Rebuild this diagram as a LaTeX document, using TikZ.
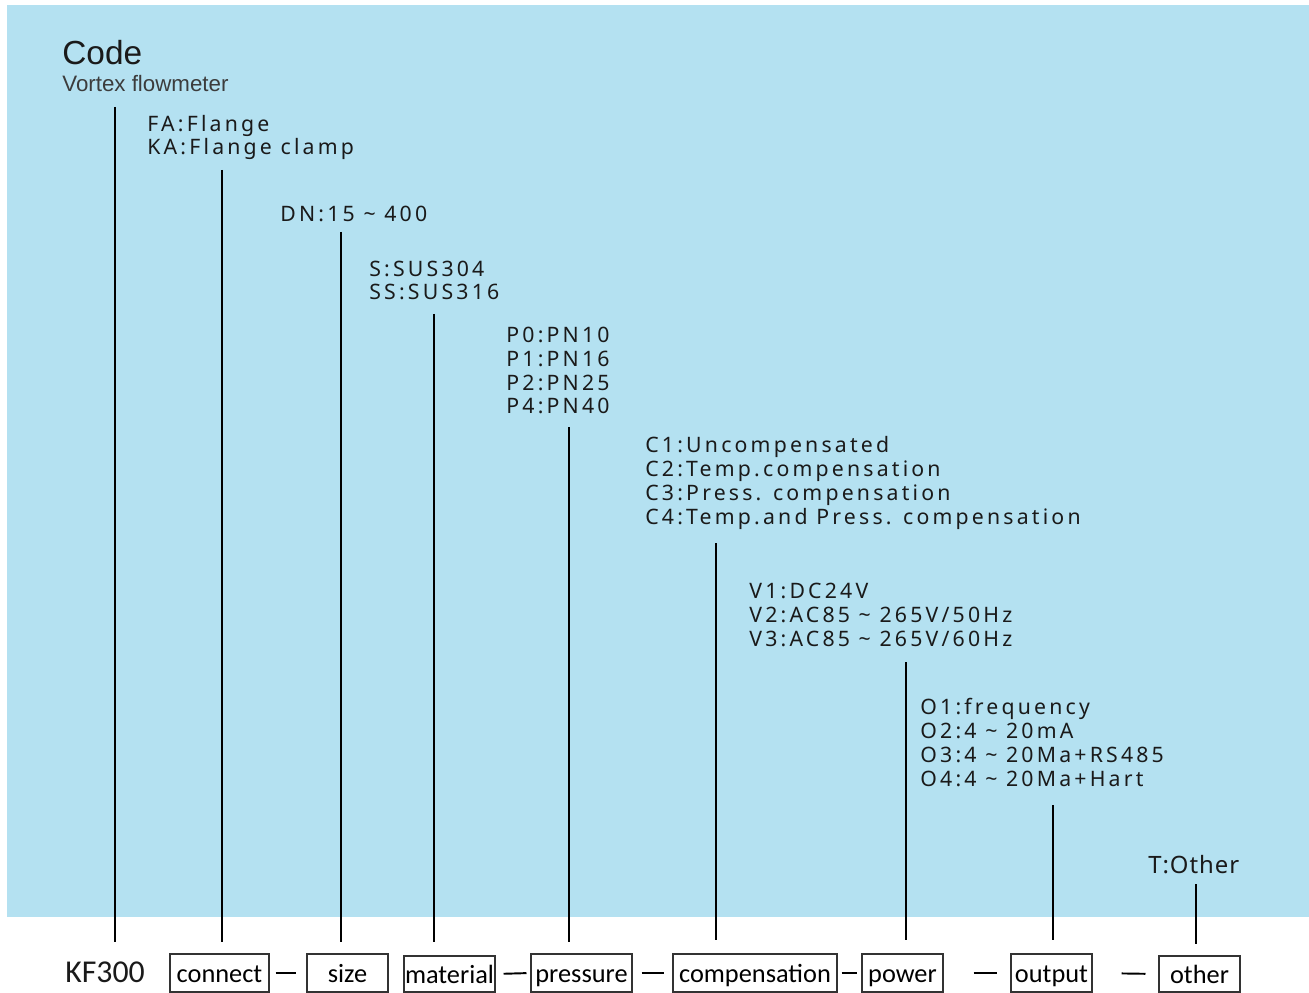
\documentclass[tikz,border=0pt]{standalone}
\usepackage{fontspec}
\setmainfont{Noto Sans}
\newfontfamily\headfont{Liberation Sans}
\newfontfamily\boxfont{Carlito}
\newfontfamily\optfont[LetterSpace=15]{Noto Sans}
\newfontfamily\otherfont[LetterSpace=4]{Noto Sans}
\usetikzlibrary{positioning}
\definecolor{SkyBlue}{HTML}{B4E1F1}
\definecolor{InkText}{HTML}{1A1A1A}
\newcommand{\tld}{\textasciitilde}
\tikzset{
  opt/.style={anchor=base west, inner sep=0pt, align=left, text=InkText, font=\optfont\fontsize{12.1pt}{13.6pt}\selectfont},
  codebox/.style={draw=black!80, line width=0.6pt, minimum height=0.76cm, inner sep=0pt, text height=0.5cm, text depth=0.14cm, font=\boxfont\fontsize{15pt}{18pt}\selectfont},
  stem/.style={line width=1.1pt, draw=black},
  dashline/.style={line width=1.1pt, draw=black}
}

\begin{document}
\begin{tikzpicture}[x=0.02cm,y=-0.02cm]
\useasboundingbox (0,0) rectangle (1309,993);
\fill[white] (0,0) rectangle (1309,993);
\fill[SkyBlue] (7,5) rectangle (1309,917);

% heading
\node[anchor=base west, inner sep=0pt, text=InkText, font=\headfont\fontsize{19pt}{22pt}\selectfont] (code) at (62,65) {Code};
\node[anchor=base west, inner sep=0pt, text=InkText!85, font=\headfont\fontsize{12.7pt}{15pt}\selectfont] (vortex) at (62,92) {Vortex flowmeter};

% option lists (base = last line)
\node[opt] (conopt) at (147,155) {FA:Flange\\KA:Flange clamp};
\node[opt] (sizeopt) at (280,222) {DN:15 \tld{} 400};
\node[opt] (matopt) at (369,300) {S:SUS304\\SS:SUS316};
\node[opt] (presopt) at (506,414) {P0:PN10\\P1:PN16\\P2:PN25\\P4:PN40};
\node[opt] (compopt) at (645,524) {C1:Uncompensated\\C2:Temp.compensation\\C3:Press. compensation\\C4:Temp.and Press. compensation};
\node[opt] (powopt) at (749,646) {V1:DC24V\\V2:AC85 \tld{} 265V/50Hz\\V3:AC85 \tld{} 265V/60Hz};
\node[opt] (outopt) at (920,786) {O1:frequency\\O2:4 \tld{} 20mA\\O3:4 \tld{} 20Ma+RS485\\O4:4 \tld{} 20Ma+Hart};
\node[opt, font=\otherfont\fontsize{13.6pt}{16pt}\selectfont] (othopt) at (1148,873) {T:Other};

% code line
\node[anchor=base west, inner sep=0pt, text=InkText, font=\boxfont\fontsize{18.1pt}{21pt}\selectfont] (kf) at (65,982) {KF300};
\node[codebox, minimum width=1.98cm] (connect) at (219.5,973) {connect};
\node[codebox, minimum width=1.62cm] (size) at (347.5,973) {size};
\node[codebox, minimum width=1.82cm, minimum height=0.72cm] (material) at (449.5,974) {material};
\node[codebox, minimum width=2.02cm] (pressure) at (581.5,973) {pressure};
\node[codebox, minimum width=3.28cm] (comp) at (755,973) {compensation};
\node[codebox, minimum width=1.62cm] (power) at (902.5,973) {power};
\node[codebox, minimum width=1.62cm] (output) at (1051.5,973) {output};
\node[codebox, minimum width=1.62cm, minimum height=0.72cm] (other) at (1199.5,974) {other};

\draw[dashline, shorten <=0.12cm, shorten >=0.2cm] (connect.east) -- (size.west);
\draw[dashline, shorten <=0.16cm, shorten >=0.08cm] (material.east) -- (pressure.west);
\draw[dashline, shorten <=0.18cm, shorten >=0.16cm] (pressure.east) -- (comp.west);
\draw[dashline, shorten <=0.08cm, shorten >=0.08cm] (comp.east) -- (power.west);
\draw[dashline, shorten <=0.6cm, shorten >=0.26cm] (power.east) -- (output.west);
\draw[dashline, shorten <=0.58cm, shorten >=0.26cm] (output.east) -- (other.west);

% stems
\coordinate (codeTop) at (115,107);  \coordinate (codeFoot) at (115,942);
\coordinate (conTop) at (222,170);   \coordinate (conFoot) at (222,942);
\coordinate (sizeTop) at (341,232);  \coordinate (sizeFoot) at (341,942);
\coordinate (matTop) at (434,314);   \coordinate (matFoot) at (434,942);
\coordinate (presTop) at (569,427);  \coordinate (presFoot) at (569,942);
\coordinate (compTop) at (716,543);  \coordinate (compFoot) at (716,940);
\coordinate (powTop) at (906,662);   \coordinate (powFoot) at (906,940);
\coordinate (outTop) at (1053,805);  \coordinate (outFoot) at (1053,940);
\coordinate (othTop) at (1196,884);  \coordinate (othFoot) at (1196,944);
\draw[stem] (codeTop) -- (codeFoot);
\draw[stem] (conTop) -- (conFoot);
\draw[stem] (sizeTop) -- (sizeFoot);
\draw[stem] (matTop) -- (matFoot);
\draw[stem] (presTop) -- (presFoot);
\draw[stem] (compTop) -- (compFoot);
\draw[stem] (powTop) -- (powFoot);
\draw[stem] (outTop) -- (outFoot);
\draw[stem] (othTop) -- (othFoot);
\end{tikzpicture}
\end{document}
